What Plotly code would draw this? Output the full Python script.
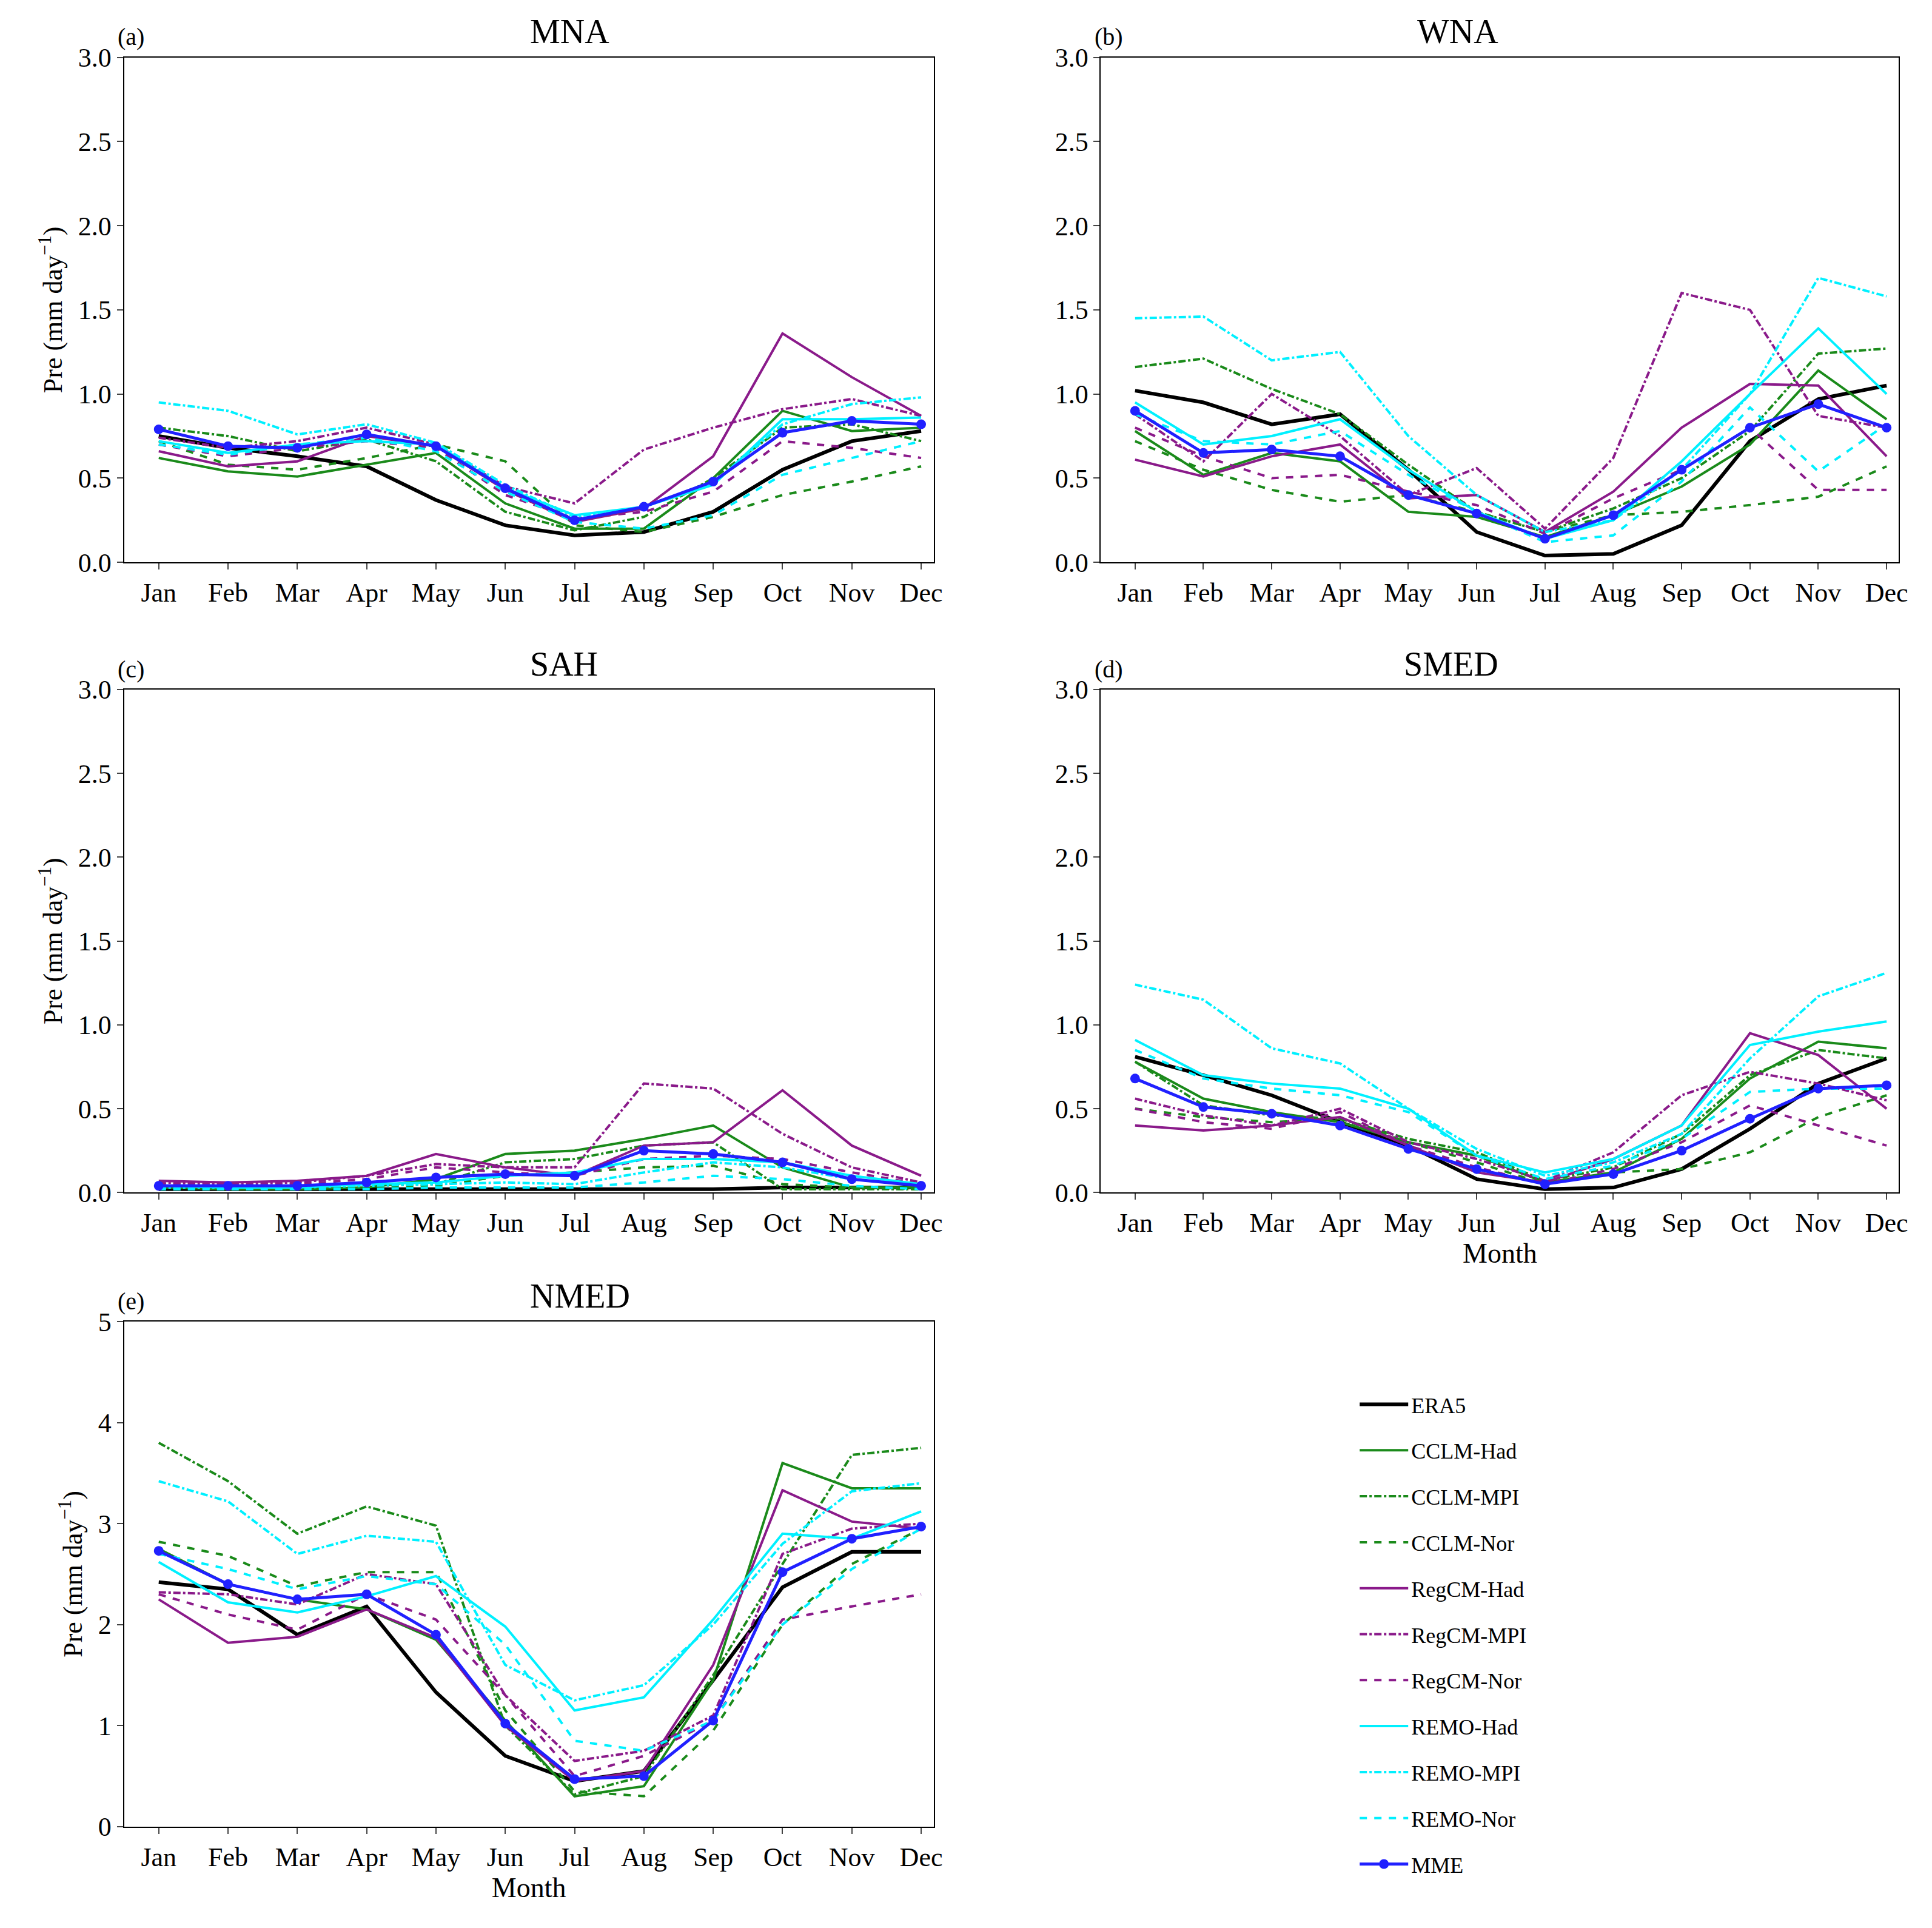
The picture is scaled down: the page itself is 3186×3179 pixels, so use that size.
import plotly.graph_objects as go

months = ["Jan", "Feb", "Mar", "Apr", "May", "Jun", "Jul", "Aug", "Sep", "Oct", "Nov", "Dec"]
models = ["ERA5", "CCLM-Had", "CCLM-MPI", "CCLM-Nor", "RegCM-Had", "RegCM-MPI",
          "RegCM-Nor", "REMO-Had", "REMO-MPI", "REMO-Nor", "MME"]

# values, one list per model, in the order of `models`
mna = [
    [0.75, 0.68, 0.63, 0.57, 0.37, 0.22, 0.16, 0.18, 0.30, 0.55, 0.72, 0.78],
    [0.62, 0.54, 0.51, 0.58, 0.65, 0.35, 0.20, 0.20, 0.50, 0.90, 0.78, 0.80],
    [0.80, 0.75, 0.66, 0.73, 0.60, 0.30, 0.19, 0.27, 0.50, 0.80, 0.82, 0.72],
    [0.72, 0.58, 0.55, 0.62, 0.70, 0.60, 0.22, 0.18, 0.27, 0.40, 0.48, 0.57],
    [0.66, 0.57, 0.60, 0.75, 0.69, 0.43, 0.24, 0.32, 0.63, 1.36, 1.10, 0.87],
    [0.74, 0.68, 0.72, 0.80, 0.70, 0.45, 0.35, 0.67, 0.80, 0.91, 0.97, 0.87],
    [0.70, 0.63, 0.68, 0.72, 0.68, 0.40, 0.26, 0.30, 0.42, 0.72, 0.68, 0.62],
    [0.72, 0.65, 0.70, 0.72, 0.70, 0.44, 0.28, 0.33, 0.46, 0.85, 0.85, 0.86],
    [0.95, 0.90, 0.76, 0.82, 0.71, 0.46, 0.27, 0.33, 0.47, 0.82, 0.94, 0.98],
    [0.70, 0.64, 0.70, 0.74, 0.66, 0.42, 0.24, 0.20, 0.28, 0.52, 0.62, 0.72],
    [0.79, 0.69, 0.68, 0.76, 0.69, 0.44, 0.25, 0.33, 0.48, 0.77, 0.84, 0.82],
]
wna = [
    [1.02, 0.95, 0.82, 0.88, 0.55, 0.18, 0.04, 0.05, 0.22, 0.72, 0.97, 1.05],
    [0.78, 0.52, 0.65, 0.60, 0.30, 0.27, 0.15, 0.28, 0.45, 0.70, 1.14, 0.85],
    [1.16, 1.21, 1.03, 0.88, 0.58, 0.30, 0.18, 0.32, 0.50, 0.78, 1.24, 1.27],
    [0.72, 0.55, 0.43, 0.36, 0.40, 0.30, 0.18, 0.28, 0.30, 0.34, 0.39, 0.57],
    [0.61, 0.51, 0.63, 0.70, 0.38, 0.40, 0.18, 0.42, 0.80, 1.06, 1.05, 0.63],
    [0.88, 0.60, 1.00, 0.75, 0.40, 0.56, 0.20, 0.62, 1.60, 1.50, 0.87, 0.80],
    [0.80, 0.63, 0.50, 0.52, 0.42, 0.34, 0.17, 0.38, 0.55, 0.80, 0.43, 0.43],
    [0.95, 0.70, 0.75, 0.85, 0.55, 0.30, 0.14, 0.25, 0.60, 1.00, 1.39, 1.00],
    [1.45, 1.46, 1.20, 1.25, 0.75, 0.40, 0.18, 0.25, 0.55, 1.00, 1.69, 1.58],
    [0.88, 0.72, 0.70, 0.78, 0.52, 0.30, 0.12, 0.16, 0.48, 0.92, 0.54, 0.82],
    [0.90, 0.65, 0.67, 0.63, 0.40, 0.29, 0.14, 0.28, 0.55, 0.80, 0.94, 0.80],
]
sah = [
    [0.02, 0.02, 0.02, 0.02, 0.02, 0.02, 0.02, 0.02, 0.02, 0.03, 0.03, 0.03],
    [0.03, 0.02, 0.02, 0.03, 0.08, 0.23, 0.25, 0.32, 0.40, 0.15, 0.03, 0.03],
    [0.04, 0.03, 0.03, 0.04, 0.05, 0.18, 0.20, 0.28, 0.30, 0.02, 0.02, 0.02],
    [0.02, 0.02, 0.02, 0.03, 0.04, 0.10, 0.12, 0.15, 0.16, 0.05, 0.03, 0.02],
    [0.07, 0.06, 0.07, 0.10, 0.23, 0.15, 0.10, 0.28, 0.30, 0.61, 0.28, 0.10],
    [0.06, 0.05, 0.06, 0.10, 0.17, 0.15, 0.15, 0.65, 0.62, 0.35, 0.15, 0.06],
    [0.05, 0.05, 0.05, 0.08, 0.15, 0.12, 0.10, 0.20, 0.22, 0.20, 0.12, 0.05],
    [0.04, 0.03, 0.03, 0.05, 0.06, 0.10, 0.12, 0.20, 0.20, 0.18, 0.10, 0.05],
    [0.03, 0.03, 0.03, 0.04, 0.05, 0.06, 0.05, 0.12, 0.18, 0.15, 0.08, 0.04],
    [0.02, 0.02, 0.02, 0.02, 0.03, 0.03, 0.03, 0.06, 0.10, 0.08, 0.04, 0.02],
    [0.04, 0.04, 0.04, 0.06, 0.09, 0.11, 0.10, 0.25, 0.23, 0.18, 0.08, 0.04],
]
smed = [
    [0.81, 0.70, 0.58, 0.42, 0.28, 0.08, 0.02, 0.03, 0.14, 0.38, 0.65, 0.80],
    [0.78, 0.56, 0.48, 0.42, 0.30, 0.22, 0.06, 0.12, 0.32, 0.68, 0.90, 0.86],
    [0.78, 0.52, 0.46, 0.44, 0.32, 0.24, 0.07, 0.15, 0.35, 0.70, 0.85, 0.80],
    [0.50, 0.45, 0.42, 0.44, 0.30, 0.18, 0.05, 0.12, 0.14, 0.24, 0.45, 0.58],
    [0.40, 0.37, 0.40, 0.45, 0.28, 0.12, 0.06, 0.20, 0.40, 0.95, 0.82, 0.50],
    [0.56, 0.46, 0.40, 0.50, 0.30, 0.20, 0.07, 0.24, 0.58, 0.72, 0.65, 0.55],
    [0.50, 0.42, 0.38, 0.48, 0.28, 0.15, 0.05, 0.14, 0.30, 0.52, 0.40, 0.28],
    [0.91, 0.70, 0.65, 0.62, 0.50, 0.22, 0.12, 0.20, 0.40, 0.88, 0.96, 1.02],
    [1.24, 1.15, 0.86, 0.77, 0.50, 0.26, 0.10, 0.18, 0.35, 0.80, 1.17, 1.31],
    [0.85, 0.68, 0.62, 0.58, 0.48, 0.22, 0.08, 0.16, 0.32, 0.60, 0.62, 0.62],
    [0.68, 0.51, 0.47, 0.40, 0.26, 0.14, 0.05, 0.11, 0.25, 0.44, 0.62, 0.64],
]
nmed = [
    [2.42, 2.35, 1.90, 2.18, 1.33, 0.70, 0.45, 0.55, 1.45, 2.37, 2.72, 2.72],
    [2.75, 2.40, 2.25, 2.15, 1.85, 1.05, 0.30, 0.40, 1.45, 3.60, 3.35, 3.35],
    [3.80, 3.42, 2.90, 3.17, 2.98, 1.00, 0.32, 0.50, 1.50, 2.60, 3.68, 3.75],
    [2.82, 2.68, 2.38, 2.52, 2.52, 1.15, 0.35, 0.30, 0.95, 2.00, 2.60, 2.95],
    [2.25, 1.82, 1.88, 2.15, 1.87, 1.00, 0.45, 0.55, 1.60, 3.33, 3.02, 2.95],
    [2.32, 2.30, 2.20, 2.50, 2.40, 1.30, 0.65, 0.75, 1.10, 2.70, 2.95, 3.00],
    [2.30, 2.10, 1.95, 2.30, 2.05, 1.30, 0.50, 0.70, 1.05, 2.05, 2.18, 2.30],
    [2.62, 2.22, 2.12, 2.28, 2.48, 1.98, 1.15, 1.28, 2.05, 2.90, 2.85, 3.12],
    [3.42, 3.22, 2.70, 2.88, 2.82, 1.60, 1.25, 1.40, 2.00, 2.80, 3.32, 3.40],
    [2.70, 2.55, 2.35, 2.48, 2.40, 1.80, 0.85, 0.75, 1.05, 2.00, 2.55, 2.95],
    [2.73, 2.40, 2.25, 2.30, 1.90, 1.02, 0.47, 0.50, 1.05, 2.52, 2.85, 2.97],
]

regions = ["MNA", "WNA", "SAH", "SMED", "NMED"]
letters = ["(a)", "(b)", "(c)", "(d)", "(e)"]
panel_data = [mna, wna, sah, smed, nmed]

# styles
colors = ["black", "#1a8a1a", "#1a8a1a", "#1a8a1a", "#8a1a8a", "#8a1a8a", "#8a1a8a",
          "#00f0ff", "#00f0ff", "#00f0ff", "#2020ff"]
dashes = ["solid", "solid", "dashdot", "dash", "solid", "dashdot", "dash",
          "solid", "dashdot", "dash", "solid"]
widths = [6, 4, 4, 4, 4, 4, 4, 4, 4, 4, 5]

# axis domains (paper fractions)
xdom = [[0.062, 0.483], [0.570, 0.985], [0.062, 0.483], [0.570, 0.985], [0.062, 0.483]]
ydom = [[0.714, 0.980], [0.714, 0.980], [0.382, 0.647], [0.382, 0.647], [0.048, 0.314]]

FONT = "Liberation Serif, Times New Roman, serif"
fig = go.Figure()

for p in range(5):
    ax = "" if p == 0 else str(p + 1)
    for i, name in enumerate(models):
        fig.add_trace(go.Scatter(
            x=months, y=panel_data[p][i], name=name, xaxis="x" + ax, yaxis="y" + ax,
            mode="lines+markers" if name == "MME" else "lines",
            marker=dict(size=16, color=colors[i]),
            line=dict(color=colors[i], dash=dashes[i], width=widths[i]),
            legendgroup=name, showlegend=(p == 0)))

    axis_common = dict(showline=True, linecolor="black", linewidth=2, mirror=True,
                       ticks="outside", ticklen=10, tickwidth=2, showgrid=False,
                       zeroline=False, tickfont=dict(size=44, family=FONT, color="black"))
    xa = dict(axis_common, domain=xdom[p], anchor="y" + ax, type="category",
              range=[-0.5, 11.18])
    if p in (3, 4):
        xa["title"] = dict(text="Month", font=dict(size=46, family=FONT, color="black"),
                           standoff=8)
    if p < 4:
        ya = dict(axis_common, domain=ydom[p], anchor="x" + ax, range=[0, 3],
                  dtick=0.5, tickformat=".1f")
    else:
        ya = dict(axis_common, domain=ydom[p], anchor="x" + ax, range=[0, 5], dtick=1)
    if p in (0, 2, 4):
        ya["title"] = dict(text="Pre (mm day<sup>−1</sup>)",
                           font=dict(size=44, family=FONT, color="black"), standoff=12)
    fig.layout["xaxis" + ax] = xa
    fig.layout["yaxis" + ax] = ya

    xm = (xdom[p][0] + xdom[p][1]) / 2
    fig.add_annotation(x=xm, y=ydom[p][1] + 0.003, xref="paper", yref="paper",
                       text=regions[p], showarrow=False, yanchor="bottom",
                       font=dict(size=56, family=FONT, color="black"))
    fig.add_annotation(x=xdom[p][0] - 0.004, y=ydom[p][1] + 0.003, xref="paper",
                       yref="paper", text=letters[p], showarrow=False,
                       xanchor="left", yanchor="bottom",
                       font=dict(size=40, family=FONT, color="black"))

fig.update_layout(
    width=3186, height=3179,
    plot_bgcolor="white", paper_bgcolor="white",
    margin=dict(l=0, r=0, t=0, b=0),
    font=dict(family=FONT, color="black"),
    legend=dict(x=0.703, y=0.28, xanchor="left", yanchor="top",
                font=dict(size=36, family=FONT, color="black"),
                tracegroupgap=26, itemwidth=80, bgcolor="rgba(0,0,0,0)"),
)

fig.write_html("out.html")
